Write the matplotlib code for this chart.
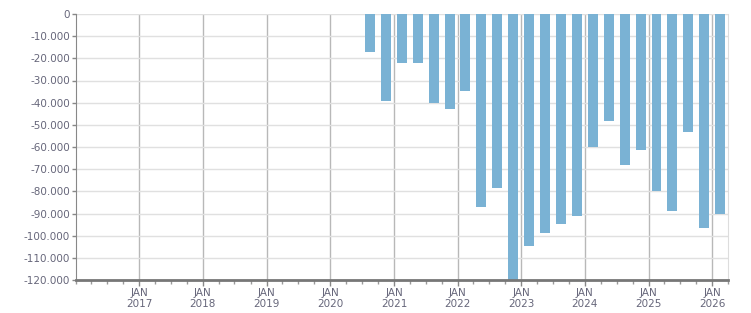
"""
Quarterly negative bar chart, 2016-2026
"""
import pandas as pd
import matplotlib
matplotlib.use("Agg")
import matplotlib.pyplot as plt
import matplotlib.dates as mdates
from matplotlib.ticker import FuncFormatter, MultipleLocator


# Quarterly values
quarters = [
    "2020Q3", "2020Q4", "2021Q1", "2021Q2", "2021Q3", "2021Q4",
    "2022Q1", "2022Q2", "2022Q3", "2022Q4", "2023Q1", "2023Q2",
    "2023Q3", "2023Q4", "2024Q1", "2024Q2", "2024Q3", "2024Q4",
    "2025Q1", "2025Q2", "2025Q3", "2025Q4", "2026Q1",
]
values = [
    -17200, -39400, -22200, -22200, -40300, -43000,
    -34800, -86900, -78400, -121000, -104500, -98700,
    -94600, -91000, -59900, -48100, -68000, -61200,
    -79700, -88700, -53100, -96400, -90100,
]
years = list(range(2017, 2027))

# bars sit in the middle of each quarter
periods = pd.PeriodIndex(quarters, freq="Q")
centers = periods.start_time + (periods.end_time - periods.start_time) / 2

label_color = "#66667a"
bar_color = "#7ab2d4"

fig = plt.figure(figsize=(7.51, 3.13), dpi=100)
ax = fig.add_axes([75.5 / 751, 33 / 313, (728 - 75.5) / 751, 266 / 313])

ax.bar(centers, values, width=57, color=bar_color, zorder=2)

ax.set_xlim(pd.Timestamp("2016-01-01"), pd.Timestamp("2026-04-01"))
ax.set_ylim(-120000, 0)

# y axis
ax.yaxis.set_major_locator(MultipleLocator(10000))
ax.yaxis.set_major_formatter(
    FuncFormatter(lambda v, p: "0" if v == 0 else f"{int(v):,}".replace(",", "."))
)
ax.grid(axis="y", color="#e0e0e0", lw=1, zorder=0)

# x axis: year lines at January, quarterly minor ticks
ax.set_xticks([pd.Timestamp(f"{y}-01-01") for y in years])
ax.set_xticklabels([f"JAN\n{y}" for y in years])
ax.xaxis.set_minor_locator(mdates.MonthLocator(bymonth=[1, 4, 7, 10]))
ax.grid(axis="x", which="major", color="#b8b8b8", lw=1, zorder=0)
ax.set_axisbelow(True)

ax.tick_params(axis="y", length=3, width=1, color="#888888", labelsize=7.5,
               labelcolor=label_color, pad=1)
ax.tick_params(axis="x", which="major", length=4, width=1, color="#888888",
               labelsize=7.5, labelcolor=label_color, pad=2)
ax.tick_params(axis="x", which="minor", length=3, width=1, color="#999999")

for lbl in ax.get_xticklabels():
    lbl.set_linespacing(1.1)

ax.spines["top"].set_visible(False)
ax.spines["left"].set_color("#888888")
ax.spines["right"].set_color("#dddddd")
ax.spines["bottom"].set_color("#777777")
ax.spines["bottom"].set_linewidth(2)
ax.spines["bottom"].set_zorder(3)

fig.savefig("out.png", dpi=100)
